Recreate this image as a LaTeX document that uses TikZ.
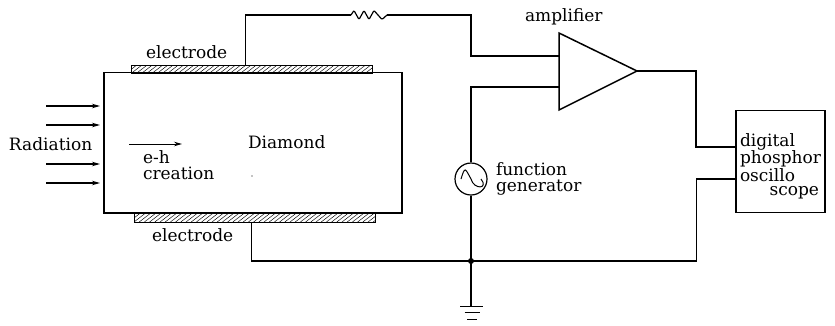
\documentclass[tikz,border=0pt]{standalone}
\usepackage{fontspec}
\setmainfont{DejaVu Serif}
\usetikzlibrary{arrows.meta}
\tikzset{
  wire/.style={line width=1.4pt,line join=miter},
  box/.style={draw,line width=1.5pt,rectangle,inner sep=0pt,outer sep=0pt,anchor=north west},
  lab/.style={inner sep=0pt,outer sep=0pt,font=\fontsize{17}{19}\selectfont},
  ray/.style={line width=1.2pt,-{Stealth[length=8pt,width=4.5pt]}},
}
\begin{document}
\begin{tikzpicture}[x=1pt,y=-1pt]
\useasboundingbox (0,0) rectangle (835,325);
% crystal and electrodes
\node[box,minimum width=298pt,minimum height=140.5pt] (dia) at (104,72.7) {};
\foreach \nm/\xa/\ya in {etop/131/65,ebot/134/213.5}{
  \begin{scope}
    \clip (\xa,\ya) rectangle ++(241,8.5);
    \foreach \i in {-3,...,50}
      \draw[line width=0.45pt] (\xa+\i*5.2,\ya+8.5) -- ++(11,-8.5);
  \end{scope}
  \node[box,line width=1pt,minimum width=241pt,minimum height=8.5pt] (\nm) at (\xa,\ya) {};
}
\draw[line width=1.5pt] (104,72.7) -- (402,72.7) (104,213.2) -- (402,213.2);
% amplifier
\coordinate (a1) at (559,33);
\coordinate (a2) at (559,110);
\coordinate (aout) at (637,71);
\draw[line width=1.5pt,line join=miter] (a1) -- (aout) -- (a2) -- cycle;
\coordinate (ain1) at (559,56);
\coordinate (ain2) at (559,87);
% scope box
\node[box,minimum width=89pt,minimum height=102pt] (osc) at (736,110.5) {};
\coordinate (osc1) at (736,147);
\coordinate (osc2) at (736,179);
% generator
\node[draw,circle,line width=1.2pt,minimum size=32pt,inner sep=0pt] (gen) at (471,179) {};
\draw[line width=1pt] (gen.center) ++(-10,0) .. controls ++(4,-13) and ++(-6,-11) .. ++(10,0) .. controls ++(3,11) and ++(8,10) .. ++(10,0);
% junction and ground
\coordinate (j) at (471,261);
\fill (j) circle (3pt);
\coordinate (g) at (471,306);
\draw[wire] (j) -- (g);
\draw[line width=1pt] (460,306) -- (483,306);
\draw[line width=1pt] (464.5,312.5) -- (480,312.5);
\draw[line width=1pt] (467,319) -- (477,319);
% wires
\coordinate (r1) at (351,15);
\coordinate (r2) at (387,15);
\draw[wire] (245.5,65) -- (245.5,15) -- (r1);
\draw[line width=1.2pt,rounded corners=1pt] (r1) -- (354,10.5) -- (359,19.5) -- (364,10.5) -- (369,19.5) -- (374,10.5) -- (382,19.5) -- (r2);
\draw[wire] (r2) -- (471,15) -- (471,56) -- (ain1);
\draw[wire] (ain2) -- (471,87) -- (gen.north);
\draw[wire] (gen.south) -- (j);
\draw[wire] (aout) -- (696,71) -- (696,147) -- (osc1);
\draw[wire] (osc2) -- (696.5,179) -- (696.5,261) -- (j);
\draw[wire] (251.5,222) -- (251.5,261) -- (j);
% radiation arrows
\foreach \n/\y in {a/106,b/125,c/164,d/183}{
  \coordinate (s\n) at (46,\y);
  \coordinate (t\n) at (100,\y);
  \draw[ray] (s\n) -- (t\n);
}
\coordinate (eh1) at (129,144);
\coordinate (eh2) at (182,144);
\draw[ray,line width=0.9pt] (eh1) -- (eh2);
\fill (252,176) circle (0.7pt);
% labels
\node[lab,anchor=base west] (l1) at (146,58) {electrode};
\node[lab,anchor=base west] (l2) at (152,241) {electrode};
\node[lab,anchor=base west] (l3) at (9,150.7) {Radiation};
\node[lab,anchor=base west] (l4) at (248,148.7) {Diamond};
\node[lab,anchor=base west] (l5) at (143,163.5) {e-h};
\node[lab,anchor=base west] (l6) at (143,179) {creation};
\node[lab,anchor=base west] (l7) at (525,21.7) {amplifier};
\node[lab,anchor=base west] (l8) at (496,175) {function};
\node[lab,anchor=base west] (l9) at (496,191.7) {generator};
\node[lab,anchor=base west] (l10) at (740,146.7) {digital};
\node[lab,anchor=base west] (l11) at (740,163) {phosphor};
\node[lab,anchor=base west] (l12) at (740,181) {oscillo};
\node[lab,anchor=base east] (l13) at (819,195.7) {scope};
\end{tikzpicture}
\end{document}
